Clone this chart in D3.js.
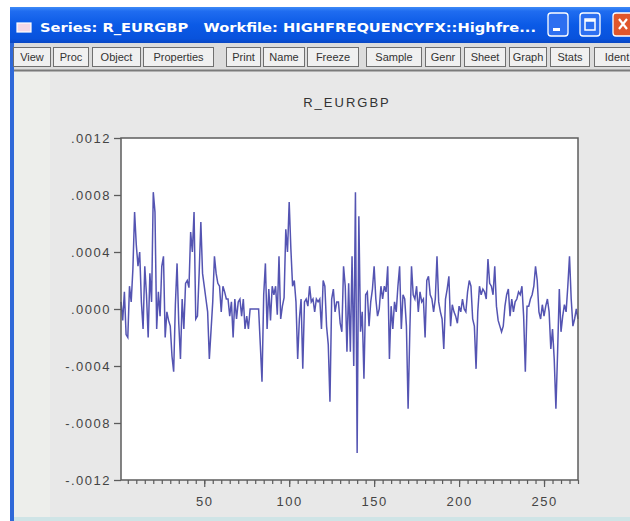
<!DOCTYPE html>
<html>
<head>
<meta charset="utf-8">
<script src="https://cdn.jsdelivr.net/npm/d3@7"></script>
<style>
  html, body { margin: 0; padding: 0; background: #ffffff; }
  svg { display: block; }
</style>
</head>
<body>
<script>
// R_EURGBP: high-frequency EUR/GBP returns, one value per observation (1..270)
const returns = [
  .00005, -.00008, .00012, -.00018, -.0002, .00016, .00005, .00028, .00068, .00045,
  .0003, .0004, .00005, -.00014, .0003, .0001, -.0002, .00025, .00005, .00082,
  .00068, -.00014, .00012, -.00005, .0003, .00037, -.0002, -.00002, -.00008, -.00012,
  -.00033, -.00044, .00003, .00032, -.0001, -.00035, .00007, -.00014, .00018, .0002,
  .00015, .00054, .0004, .00068, -.00007, -.00005, .00025, .00061, .00025, .00016,
  .00007, -.00002, -.00035, -.00015, .00005, .00037, .00025, .00018, .00016, -.00002,
  .00016, .00012, .00007, .00007, -.00005, .00005, -.0002, .00007, -.00007, .00005,
  .00007, -.00005, .00007, -.00014, -.00005, -.00014, 0, 0, 0, 0,
  0, 0, -.00025, -.00051, .0001, .00032, -.00014, .00014, -.00008, .00016,
  .0001, .00016, -.00004, .00037, -.00007, .00002, .00008, .00056, .0004, .00075,
  .00042, .00016, .0002, .00005, -.00035, -.00007, .00007, -.00042, .00005, .00007,
  .00002, .00016, .00005, .00007, -.00002, .00007, .00005, .00007, -.00014, .0002,
  .00016, -.00012, -.00025, -.00065, .00007, .00014, -.00002, .00005, .00005, -.0001,
  -.00016, .0003, .00016, -.0003, .00018, -.0003, .00037, -.0004, .00082, -.00101,
  .00065, -.00016, -.00002, -.00049, .0001, .00012, -.00012, .00005, .00014, .0003,
  .00007, -.00005, 0, .00016, .00007, .00016, .00012, .0003, -.00035, .00002,
  -.00014, .00005, -.00002, .00016, .0003, -.00014, .0001, .00007, -.00012, -.0007,
  -.00016, .0003, .0001, .00007, .00016, -.00002, .00012, .00005, .00007, -.0002,
  .0002, .00023, .0001, .00007, -.00002, .00007, .00037, .00005, -.00002, -.00007,
  -.00028, .00007, .00014, .00023, -.00012, .00003, -.00002, -.00005, -.0001, .00002,
  -.00002, .00007, 0, -.00002, .00012, .0002, .00016, -.00007, -.00012, -.00042,
  -.00002, .00016, .0001, .00014, .00012, .00007, .00035, .00018, .00016, .0001,
  .0003, .00002, -.00008, -.00012, -.00016, -.00012, .00002, .0001, .00014, -.00005,
  .00007, -.00002, .00005, .00007, .00012, .0001, .00016, -.00005, -.00044, .00002,
  .00002, .00007, .0001, .00016, .0003, .0002, -.00002, -.00007, .00003, -.00005,
  .00002, .00007, -.00002, -.00028, -.00014, -.00035, -.0007, -.0003, .00014, -.00016,
  -.00005, .00003, -.00002, .00016, .00037, .00007, -.00012, -.00007, 0, -.00007
];

const yTickValues = [.0012, .0008, .0004, 0, -.0004, -.0008, -.0012];
const yTickLabels = [".0012", ".0008", ".0004", ".0000", "-.0004", "-.0008", "-.0012"];
const xTickValues = [50, 100, 150, 200, 250];
const xTickLabels = ["50", "100", "150", "200", "250"];

const seriesName = "R_EURGBP";
const windowTitle = "Series: R_EURGBP\u00a0\u00a0\u00a0Workfile: HIGHFREQUENCYFX::Highfre...";
const toolbarButtons = [
  ["View", 13, 51], ["Proc", 53, 89], ["Object", 92, 141], ["Properties", 143, 214],
  ["Print", 226, 261], ["Name", 263, 305], ["Freeze", 307, 359],
  ["Sample", 366, 422], ["Genr", 425, 461], ["Sheet", 464, 506], ["Graph", 509, 547],
  ["Stats", 550, 590], ["Ident", 594, 640]
];

const W = 630, H = 521;
const svg = d3.select("body").append("svg").attr("width", W).attr("height", H);
const defs = svg.append("defs");

// ---- window frame ----
const tg = defs.append("linearGradient").attr("id", "titleGrad")
  .attr("x1", 0).attr("y1", 0).attr("x2", 0).attr("y2", 1);
[[0, "#3d8af7"], [0.12, "#1f6cf0"], [0.5, "#0b5ae6"], [0.88, "#0852dc"], [1, "#0a47c4"]]
  .forEach(([o, c]) => tg.append("stop").attr("offset", o).attr("stop-color", c));

svg.append("rect").attr("x", 0).attr("y", 0).attr("width", W).attr("height", H).attr("fill", "#ffffff");
svg.append("rect").attr("x", 10).attr("y", 7).attr("width", W - 10).attr("height", H - 7).attr("fill", "#2f68d8");
svg.append("rect").attr("x", 10).attr("y", 7).attr("width", W - 10).attr("height", 36).attr("fill", "url(#titleGrad)");

// panel, with a paler strip along its left edge
svg.append("rect").attr("x", 14).attr("y", 43).attr("width", W - 14).attr("height", H - 47).attr("fill", "#e8e8e8");
svg.append("rect").attr("x", 14).attr("y", 72).attr("width", 36).attr("height", H - 76).attr("fill", "#edeeeb");
svg.append("rect").attr("x", 14).attr("y", 517).attr("width", W - 14).attr("height", 4).attr("fill", "#cfe4e6");

// title bar icon and text
svg.append("rect").attr("x", 17).attr("y", 23).attr("width", 14).attr("height", 9)
  .attr("fill", "#f4d8e6").attr("stroke", "#ffffff").attr("stroke-width", 1.2);
svg.append("text").attr("x", 40).attr("y", 32)
  .attr("font-family", "'DejaVu Sans', sans-serif").attr("font-weight", "bold")
  .attr("font-size", 13).attr("fill", "#ffffff")
  .attr("textLength", 496).attr("lengthAdjust", "spacingAndGlyphs")
  .text(windowTitle);

// caption buttons
const capBtns = [[548, "#2d6ff0", "min"], [580, "#2d6ff0", "max"], [613, "#e0562c", "close"]];
capBtns.forEach(([bx, fill, kind]) => {
  svg.append("rect").attr("x", bx).attr("y", 13).attr("width", 20).attr("height", 23).attr("rx", 3)
    .attr("fill", fill).attr("stroke", "#ffffff").attr("stroke-width", 1.3);
  if (kind === "min") {
    svg.append("rect").attr("x", bx + 5).attr("y", 28).attr("width", 7).attr("height", 3).attr("fill", "#ffffff");
  } else if (kind === "max") {
    svg.append("rect").attr("x", bx + 5).attr("y", 19).attr("width", 10).attr("height", 11)
      .attr("fill", "none").attr("stroke", "#ffffff").attr("stroke-width", 1.5);
    svg.append("line").attr("x1", bx + 5).attr("x2", bx + 15).attr("y1", 20.5).attr("y2", 20.5)
      .attr("stroke", "#ffffff").attr("stroke-width", 2.5);
  } else {
    svg.append("path").attr("d", `M${bx + 6},19 L${bx + 14},29 M${bx + 14},19 L${bx + 6},29`)
      .attr("stroke", "#ffffff").attr("stroke-width", 2.2);
  }
});

// toolbar
svg.append("rect").attr("x", 14).attr("y", 43).attr("width", W - 14).attr("height", 28).attr("fill", "#dcdcdc");
svg.append("line").attr("x1", 14).attr("x2", W).attr("y1", 70.5).attr("y2", 70.5).attr("stroke", "#7a7a7a").attr("stroke-width", 2);
const tb = svg.append("g");
toolbarButtons.forEach(([label, x0, x1]) => {
  tb.append("rect").attr("x", x0 + 0.5).attr("y", 47.5).attr("width", x1 - x0 - 1).attr("height", 19)
    .attr("fill", "#f0f0f0").attr("stroke", "#6f6f6f").attr("stroke-width", 1);
  tb.append("text").attr("x", (x0 + x1) / 2).attr("y", 61).attr("text-anchor", "middle")
    .attr("font-family", "'Liberation Sans', Arial, sans-serif").attr("font-size", 11).attr("fill", "#333333")
    .text(label);
});

// ---- chart ----
const x = d3.scaleLinear().domain([1, returns.length]).range([121, 578]);
const y = d3.scaleLinear().domain([-0.0012, 0.0012]).range([480, 138]);

svg.append("rect").attr("x", 121).attr("y", 138).attr("width", 457).attr("height", 342).attr("fill", "#ffffff");

svg.append("text").attr("x", 347).attr("y", 107).attr("text-anchor", "middle")
  .attr("font-family", "'Liberation Sans', Arial, sans-serif").attr("font-size", 13)
  .attr("letter-spacing", 2).attr("fill", "#333333").text(seriesName);

const line = d3.line().x((d, i) => x(i + 1)).y(d => y(d));
svg.append("path").datum(returns).attr("d", line)
  .attr("fill", "none").attr("stroke", "#5454b2").attr("stroke-width", 1.5).attr("stroke-linejoin", "miter");

// frame
svg.append("rect").attr("x", 121).attr("y", 138).attr("width", 457).attr("height", 342)
  .attr("fill", "none").attr("stroke", "#5c5c5c").attr("stroke-width", 1.5);

const axisFont = "'Liberation Sans', Arial, sans-serif";

// y axis
const yAxis = svg.append("g").attr("transform", "translate(121,0)")
  .call(d3.axisLeft(y).tickValues(yTickValues).tickSize(7).tickPadding(3)
    .tickFormat((d, i) => yTickLabels[i]));
yAxis.select(".domain").remove();
yAxis.selectAll("line").attr("stroke", "#5c5c5c").attr("stroke-width", 1.3);
yAxis.selectAll("text").attr("font-family", axisFont).attr("font-size", 13)
  .attr("letter-spacing", 1.5).attr("fill", "#444444");

// x axis: minor ticks every 5 observations, labelled majors every 50
const minorTicks = d3.range(5, returns.length + 1, 5);
const xMinor = svg.append("g").attr("transform", "translate(0,480)")
  .call(d3.axisBottom(x).tickValues(minorTicks).tickSize(4).tickFormat(""));
xMinor.select(".domain").remove();
xMinor.selectAll("line").attr("stroke", "#5c5c5c").attr("stroke-width", 1.2);

const xMajor = svg.append("g").attr("transform", "translate(0,480)")
  .call(d3.axisBottom(x).tickValues(xTickValues).tickSize(7).tickPadding(10)
    .tickFormat((d, i) => xTickLabels[i]));
xMajor.select(".domain").remove();
xMajor.selectAll("line").attr("stroke", "#5c5c5c").attr("stroke-width", 1.2);
xMajor.selectAll("text").attr("font-family", axisFont).attr("font-size", 13)
  .attr("letter-spacing", 1.5).attr("fill", "#444444");
</script>
</body>
</html>
